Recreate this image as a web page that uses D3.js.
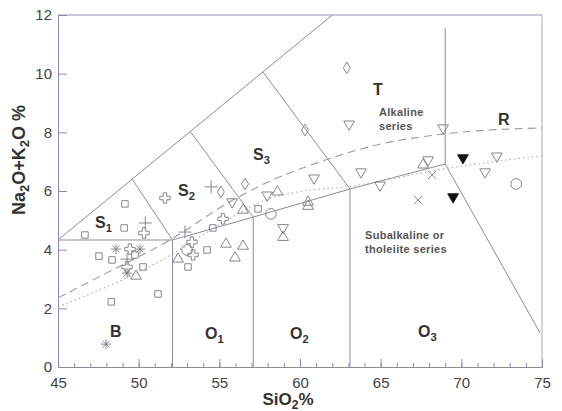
<!DOCTYPE html>
<meta charset="utf-8">
<body style="margin:0;background:#fff">

<svg width='562' height='411'></svg>

<script src="https://d3js.org/d3.v7.min.js"></script>
<script>

// point data (SiO2, Na2O+K2O) per symbol
var squares = [[49.15,5.56],[49.1,4.74],[46.67,4.5],[47.54,3.78],[48.35,3.65],[49.77,3.82],
  [50.27,3.41],[48.3,2.22],[51.2,2.49],[57.4,5.39],[54.6,4.74],[54.24,3.99],[53.06,3.41]];
var openCrosses = [[51.63,5.76],[50.33,4.57],[49.46,4.02],[49.28,3.41],[55.23,5.05],[53.3,4.26],[53.37,3.82]];
var plusSigns = [[50.41,4.91],[49.28,3.68],[54.49,6.14],[52.87,4.6]];
var asterisks = [[48.6,4.02],[50.08,4.02],[49.28,3.2],[47.98,0.78]];
var circles = [[53.0,3.99],[58.2,5.22],[73.4,6.24]];
var triUp = [[49.84,3.1],[56.47,5.35],[58.6,5.97],[55.41,4.19],[56.47,4.12],[55.97,3.72],
  [52.44,3.68],[60.5,5.62],[60.5,5.48],[58.95,4.42],[67.63,6.89]];
var triDown = [[55.79,5.63],[57.96,5.86],[63.04,8.28],[60.87,6.44],[63.78,6.65],[64.96,6.2],
  [58.95,4.75],[68.87,8.15],[67.94,7.06],[72.2,7.19],[71.47,6.65]];
var diamonds = [[55.1,5.97],[56.6,6.24],[60.31,8.08],[62.9,10.2]];
var xMarks = [[68.19,6.55],[67.32,5.69]];
var filledTriDown = [[70.1,7.13],[69.49,5.8]];

// field boundaries
var fieldLines = [
  [[45,4.33],[62,12]],                       // outer upper boundary
  [[45,4.33],[52.1,4.33]],                   // top of B
  [[49.6,6.4],[52.1,4.33]],                  // S1 / S2
  [[53.2,8.03],[57.1,5.11]],                 // S2 / S3
  [[57.7,10.06],[63.1,6.07]],                // S3 / T
  [[52.1,4.33],[57.1,5.11],[63.1,6.07],[69,6.92]], // O / S boundary
  [[52.1,4.33],[52.1,0]],
  [[57.1,5.11],[57.1,0]],
  [[63.1,6.07],[63.1,0]],
  [[69,6.92],[69,11.55]],                    // T / R
  [[69,6.92],[74.88,1.16]]                   // O3 / R
];
var alkalineLine = [[45,2.36],[48,3.2],[52,4.35],[55.7,5.65],[58,6.3],[61,6.95],[65,7.6],[69,7.95],[75,8.15]];
var dottedLine = [[45,2.05],[52,3.82],[55,4.85],[58,5.72],[60,5.98],[63,6.15],[66,6.45],[69,6.76],[72,7.0],[75,7.2]];

var xTicks = [45,50,55,60,65,70,75];
var yTicks = [0,2,4,6,8,10,12];

var svg = d3.select('svg');
var font = 'Arial, "Liberation Sans", sans-serif';

var x = d3.scaleLinear().domain([45,75]).range([58,542]);
var y = d3.scaleLinear().domain([0,12]).range([367,15]);

var lineGen = d3.line().x(function(d){ return x(d[0]); }).y(function(d){ return y(d[1]); });
var curveGen = d3.line().curve(d3.curveMonotoneX).x(function(d){ return x(d[0]); }).y(function(d){ return y(d[1]); });

// frame
svg.append('line').attr('x1',58).attr('x2',542).attr('y1',15).attr('y2',15).attr('stroke','#9a90c4');
svg.append('line').attr('x1',542).attr('x2',542).attr('y1',15).attr('y2',367).attr('stroke','#aaa');

// axes
var yAxis = svg.append('g').attr('transform','translate(58,0)')
  .call(d3.axisLeft(y).tickValues(yTicks).tickSize(-9).tickPadding(6));
var xMinor = svg.append('g').attr('transform','translate(0,367)')
  .call(d3.axisBottom(x).tickValues(d3.range(45,76)).tickSize(-4).tickFormat(''));
var xAxis = svg.append('g').attr('transform','translate(0,367)')
  .call(d3.axisBottom(x).tickValues(xTicks).tickSize(-8).tickPadding(10));

[yAxis, xAxis, xMinor].forEach(function(a){
  a.select('.domain').attr('stroke','#8f86b8');
  a.selectAll('line').attr('stroke','#8f86b8');
  a.selectAll('text').attr('fill','#444').style('font-family',font).style('font-size','15px');
});

// boundaries
fieldLines.forEach(function(l){
  svg.append('path').attr('d', lineGen(l)).attr('fill','none').attr('stroke','#8c8c9c').attr('stroke-width',1);
});
svg.append('path').attr('d', curveGen(alkalineLine)).attr('fill','none')
  .attr('stroke','#9a9aaa').attr('stroke-width',1.1).attr('stroke-dasharray','8,5');
svg.append('path').attr('d', curveGen(dottedLine)).attr('fill','none')
  .attr('stroke','#a8a8b4').attr('stroke-width',1.1).attr('stroke-dasharray','1.5,3');

// markers
var mk = svg.append('g').attr('fill','none').attr('stroke','#7a7a7a').attr('stroke-width',0.9);
function sym(data, type, size, rot, fill) {
  mk.selectAll(null).data(data).enter().append('path')
    .attr('d', d3.symbol().type(type).size(size))
    .attr('transform', function(d){ return 'translate('+x(d[0])+','+y(d[1])+') rotate('+rot+')'; })
    .attr('fill', fill || 'none')
    .attr('stroke', fill && fill !== '#fff' ? fill : null);
}
sym(squares, d3.symbolSquare, 42, 0);
sym(openCrosses, d3.symbolCross, 60, 0, '#fff');
sym(circles, d3.symbolCircle, 90, 0);
sym(triUp, d3.symbolTriangle, 50, 0);
sym(triDown, d3.symbolTriangle, 50, 180);
sym(diamonds, d3.symbolDiamond, 40, 0);
sym(filledTriDown, d3.symbolTriangle, 50, 180, '#111');

function strokes(data, angles, r) {
  data.forEach(function(d){
    angles.forEach(function(a){
      var t = a*Math.PI/180;
      mk.append('line')
        .attr('x1', x(d[0]) - r*Math.cos(t)).attr('y1', y(d[1]) - r*Math.sin(t))
        .attr('x2', x(d[0]) + r*Math.cos(t)).attr('y2', y(d[1]) + r*Math.sin(t));
    });
  });
}
strokes(plusSigns, [0,90], 6.5);
strokes(asterisks, [0,45,90,135], 5);
strokes(xMarks, [45,135], 6);

// field labels
function label(tx, sub, px, py, size) {
  var t = svg.append('text').attr('x',px).attr('y',py).attr('fill','#333')
    .style('font-family',font).style('font-weight','bold').style('font-size',size+'px').text(tx);
  if (sub) t.append('tspan').attr('dy',4).style('font-size',(size*0.7)+'px').text(sub);
}
label('S','1',95,228,16);
label('S','2',178,196,16);
label('S','3',253,160,16);
label('T',null,373,95,16);
label('R',null,498,125,16);
label('B',null,110,337,16);
label('O','1',205,339,16);
label('O','2',290,339,16);
label('O','3',418,337,16);

function note(lines, px, py) {
  lines.forEach(function(s,i){
    svg.append('text').attr('x',px).attr('y',py+i*14).attr('fill','#555')
      .style('font-family',font).style('font-weight','bold').style('font-size','11px')
      .style('letter-spacing','0.3px').text(s);
  });
}
note(['Alkaline','series'], 379, 116);
note(['Subalkaline or','tholeiite series'], 365, 239);

// axis titles
var xt = svg.append('text').attr('x',288).attr('y',405).attr('text-anchor','middle').attr('fill','#333')
  .style('font-family',font).style('font-weight','bold').style('font-size','17px').text('SiO');
xt.append('tspan').attr('dy',4).style('font-size','12px').text('2');
xt.append('tspan').attr('dy',-4).text('%');

var yt = svg.append('text').attr('transform','translate(25,160) rotate(-90)').attr('text-anchor','middle')
  .attr('fill','#333').style('font-family',font).style('font-weight','bold').style('font-size','18px').text('Na');
yt.append('tspan').attr('dy',4).style('font-size','13px').text('2');
yt.append('tspan').attr('dy',-4).text('O+K');
yt.append('tspan').attr('dy',4).style('font-size','13px').text('2');
yt.append('tspan').attr('dy',-4).text('O %');

</script>
